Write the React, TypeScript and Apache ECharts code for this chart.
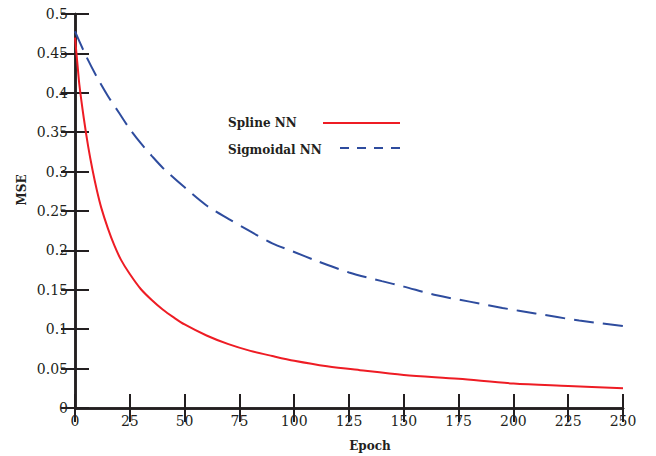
import React, { useEffect, useRef } from "react";
import * as echarts from "echarts";

const splineEpochs = [0, 1, 2, 4, 6, 8, 10, 12, 15, 18, 21, 25, 30, 35, 40, 45, 50, 60, 70, 80, 90, 100, 115, 130, 150, 175, 200, 225, 250];
const splineValues = [0.47, 0.44, 0.41, 0.368, 0.332, 0.302, 0.276, 0.254, 0.228, 0.206, 0.188, 0.17, 0.151, 0.137, 0.125, 0.115, 0.106, 0.092, 0.081, 0.0725, 0.066, 0.06, 0.053, 0.048, 0.042, 0.037, 0.031, 0.028, 0.025];

const sigmoidEpochs = [0, 5, 10, 15, 20, 25, 30, 35, 40, 50, 60, 70, 80, 90, 100, 110, 125, 140, 150, 165, 180, 195, 210, 230, 250];
const sigmoidValues = [0.478, 0.447, 0.42, 0.396, 0.375, 0.354, 0.336, 0.32, 0.305, 0.28, 0.257, 0.24, 0.224, 0.209, 0.198, 0.187, 0.172, 0.161, 0.154, 0.143, 0.135, 0.127, 0.12, 0.111, 0.104];

const seriesNames = ["Spline NN", "Sigmoidal NN"];
const xTitle = "Epoch";
const yTitle = "MSE";

const AXIS = "#231f20";
const RED = "#ee1c24";
const BLUE = "#2e4c9e";
const FONT = "'DejaVu Serif', 'Liberation Serif', serif";

export default function App() {
  const ref = useRef<HTMLDivElement>(null);
  useEffect(() => {
    document.body.style.margin = "0";
    if (!ref.current) return;
    const chart = echarts.init(ref.current, undefined, { renderer: "svg" });
    const axisBase = {
      type: "value" as const,
      axisLine: { show: true, lineStyle: { color: AXIS, width: 2.5 } },
      axisTick: { show: true, inside: true, length: 14, lineStyle: { color: AXIS, width: 2 } },
      splitLine: { show: false },
    };
    chart.setOption({
      animation: false,
      backgroundColor: "#ffffff",
      grid: { left: 75, top: 14, right: 33, bottom: 48 },
      xAxis: [
        {
          ...axisBase,
          position: "bottom",
          min: 0,
          max: 250,
          interval: 25,
          axisLabel: { color: AXIS, fontFamily: FONT, fontSize: 14, margin: 6 },
        },
        {
          ...axisBase,
          position: "top",
          min: 0,
          max: 250,
          interval: 25,
          axisLabel: { show: false },
        },
      ],
      yAxis: [
        {
          ...axisBase,
          position: "left",
          min: 0,
          max: 0.5,
          interval: 0.05,
          axisLabel: {
            color: AXIS,
            fontFamily: FONT,
            fontSize: 14,
            margin: 7,
            formatter: (v: number) => String(parseFloat(v.toFixed(2))),
          },
        },
        {
          ...axisBase,
          position: "right",
          min: 0,
          max: 0.5,
          interval: 0.05,
          axisLabel: { show: false },
        },
      ],
      series: [
        {
          name: seriesNames[0],
          type: "line",
          xAxisIndex: 0,
          yAxisIndex: 0,
          data: splineEpochs.map((e, i) => [e, splineValues[i]]),
          showSymbol: false,
          smooth: 0.3,
          lineStyle: { color: RED, width: 2 },
        },
        {
          name: seriesNames[1],
          type: "line",
          xAxisIndex: 0,
          yAxisIndex: 0,
          data: sigmoidEpochs.map((e, i) => [e, sigmoidValues[i]]),
          showSymbol: false,
          smooth: 0.3,
          lineStyle: { color: BLUE, width: 2, type: [20, 9] },
        },
      ],
      graphic: [
        {
          type: "text",
          x: 228,
          y: 123,
          style: { text: seriesNames[0], fill: AXIS, font: `bold 12px ${FONT}`, verticalAlign: "middle" },
        },
        {
          type: "line",
          shape: { x1: 323, y1: 123, x2: 400, y2: 123 },
          style: { stroke: RED, lineWidth: 2 },
        },
        {
          type: "text",
          x: 228,
          y: 150,
          style: { text: seriesNames[1], fill: AXIS, font: `bold 12px ${FONT}`, verticalAlign: "middle" },
        },
        {
          type: "line",
          shape: { x1: 340, y1: 148, x2: 402, y2: 148 },
          style: { stroke: BLUE, lineWidth: 2, lineDash: [9, 8] },
        },
        {
          type: "text",
          x: 370,
          y: 446,
          style: { text: xTitle, fill: AXIS, font: `bold 12px ${FONT}`, align: "center", verticalAlign: "middle" },
        },
        {
          type: "text",
          x: 22,
          y: 190,
          rotation: Math.PI / 2,
          style: { text: yTitle, fill: AXIS, font: `bold 12px ${FONT}`, align: "center", verticalAlign: "middle" },
        },
      ],
    });
    return () => chart.dispose();
  }, []);
  return <div ref={ref} style={{ width: 656, height: 456 }} />;
}
